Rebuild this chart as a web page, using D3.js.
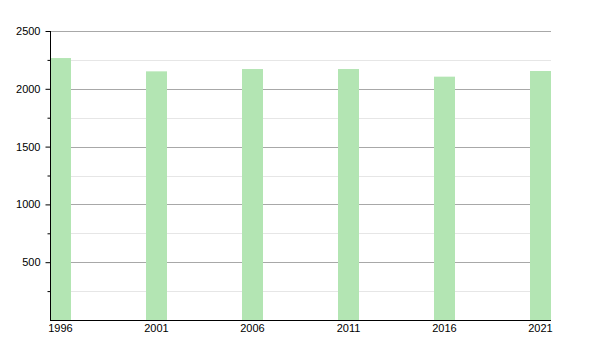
<!DOCTYPE html>
<html>
<head>
  <meta charset="utf-8">
  <title>population</title>
  <style>
    body { margin: 0; background: #fff; }
    svg text { font-family: "Liberation Sans", Arial, sans-serif; font-size: 11px; fill: #000; }
  </style>
</head>
<body>
  <svg width="600" height="350" class="chart"></svg>

  <script src="https://d3js.org/d3.v7.min.js"></script>
  <script type="text/javascript">

  // values
  var years = [1996, 2001, 2006, 2011, 2016, 2021];
  var population = [2266, 2151, 2171, 2171, 2105, 2154];
  var yTicks = [500, 1000, 1500, 2000, 2500];
  var yMinorTicks = [250, 750, 1250, 1750, 2250];

  var svg = d3.select(".chart");
  var barW = 21;
  var plotLeft = 50, plotTop = 31, plotBottom = 320;

  var x = d3.scaleLinear().domain([1996, 2021]).range([plotLeft, 530]);
  var y = d3.scaleLinear().domain([0, 2500]).range([plotBottom, plotTop]);
  var plotRight = x(2021) + barW;

  // minor grid first, then major
  svg.selectAll("line.minor")
    .data(yMinorTicks)
    .enter().append("line")
    .attr("class", "minor")
    .attr("x1", plotLeft).attr("x2", plotRight)
    .attr("y1", function(d) { return Math.round(y(d)) + 0.5; })
    .attr("y2", function(d) { return Math.round(y(d)) + 0.5; })
    .style("stroke", "#e6e6e6");

  svg.selectAll("line.major")
    .data(yTicks)
    .enter().append("line")
    .attr("class", "major")
    .attr("x1", plotLeft).attr("x2", plotRight)
    .attr("y1", function(d) { return Math.round(y(d)) + 0.5; })
    .attr("y2", function(d) { return Math.round(y(d)) + 0.5; })
    .style("stroke", "#a8a8a8");

  // bars
  svg.selectAll("rect")
    .data(population)
    .enter().append("rect")
    .attr("x", function(d, i) { return x(years[i]); })
    .attr("y", function(d) { return y(d); })
    .attr("width", barW)
    .attr("height", function(d) { return plotBottom - y(d); })
    .style("fill", "#b3e5b3");

  // y axis
  var yAxis = d3.axisLeft(y).tickValues(yTicks).tickSize(5).tickPadding(5).tickFormat(d3.format("d"));
  var gy = svg.append("g").attr("transform", "translate(" + (plotLeft + 0.5) + ",0)").call(yAxis);
  gy.select(".domain").attr("d", "M0," + plotTop + "V" + plotBottom);
  gy.selectAll("text").style("font-size", "11px").style("font-family", "'Liberation Sans', Arial, sans-serif");

  var yMinor = d3.axisLeft(y).tickValues(yMinorTicks).tickSize(3).tickFormat("");
  var gm = svg.append("g").attr("transform", "translate(" + (plotLeft + 0.5) + ",0)").call(yMinor);
  gm.select(".domain").remove();

  // x axis line and labels
  svg.append("line")
    .attr("x1", plotLeft).attr("x2", plotRight)
    .attr("y1", plotBottom + 0.5).attr("y2", plotBottom + 0.5)
    .style("stroke", "#000");

  svg.selectAll("text.year")
    .data(years)
    .enter().append("text")
    .attr("class", "year")
    .attr("x", function(d) { return x(d) + barW / 2; })
    .attr("y", 332)
    .attr("text-anchor", "middle")
    .text(function(d) { return d; });

  </script>
</body>
</html>
